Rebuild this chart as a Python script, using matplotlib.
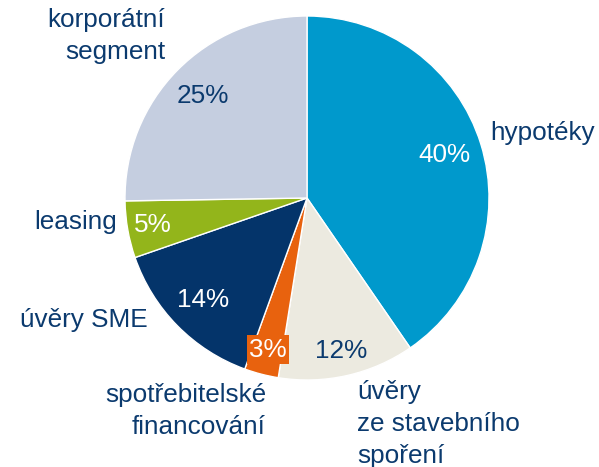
import matplotlib
matplotlib.use("Agg")
import matplotlib.pyplot as plt
import numpy as np

plt.rcParams['font.family'] = ['Liberation Sans', 'DejaVu Sans']

categories = ["hypotéky", "úvěry\nze stavebního\nspoření", "spotřebitelské\nfinancování",
              "úvěry SME", "leasing", "korporátní\nsegment"]
values = [40, 12, 3, 14, 5, 25]
pct_labels = ["40%", "12%", "3%", "14%", "5%", "25%"]
colors = ["#0099CC", "#ECEAE0", "#E8620E", "#04346A", "#93B51B", "#C5CEE0"]
pct_colors = ["white", "#0B3A6E", "white", "white", "white", "#0B3A6E"]
pct_dist = [0.79, 0.86, 0.86, 0.80, 0.86, 0.80]

W, H = 599, 467
NAVY = "#0B3A6E"
fig = plt.figure(figsize=(W / 100, H / 100), dpi=100)
ax = fig.add_axes([0, 0, 1, 1])

cx, cy, R = 307, H - 198, 182
wedges, _ = ax.pie(values, colors=colors, startangle=90, counterclock=False,
                   center=(cx, cy), radius=R, frame=True,
                   wedgeprops=dict(edgecolor='white', linewidth=1))
ax.set_xlim(0, W)
ax.set_ylim(0, H)
ax.set_aspect('equal')
ax.axis('off')

fs = 18.8
for w, lab, col, d in zip(wedges, pct_labels, pct_colors, pct_dist):
    ang = np.deg2rad((w.theta1 + w.theta2) / 2)
    x = cx + R * d * np.cos(ang)
    y = cy + R * d * np.sin(ang)
    kw = {}
    if lab == "3%":
        kw = dict(bbox=dict(boxstyle='square,pad=0.08', fc=colors[2], ec='none'))
    ax.text(x, y, lab, color=col, fontsize=fs, ha='center', va='center', **kw)

# outer category labels (pixel layout positions)
label_pos = [
    (490, 133, 'left'),
    (357, 424, 'left'),
    (266, 411, 'right'),
    (148, 320, 'right'),
    (117, 222, 'right'),
    (165, 36, 'right'),
]
for lab, (x, y, ha) in zip(categories, label_pos):
    ax.text(x, H - y, lab, color=NAVY, fontsize=fs, ha=ha, va='center',
            linespacing=1.4, multialignment=ha)

fig.savefig("out.png", dpi=100)
